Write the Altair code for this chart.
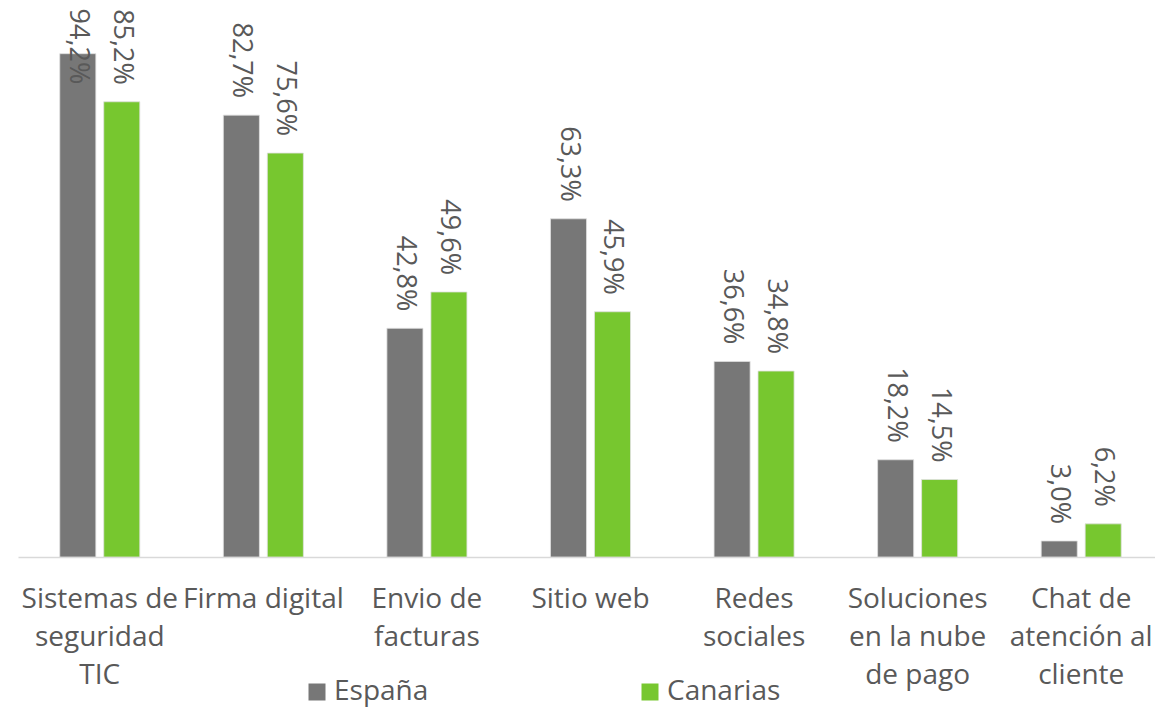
import altair as alt
import pandas as pd

CATEGORIES = [
    "Sistemas de\nseguridad\nTIC",
    "Firma digital",
    "Envio de\nfacturas",
    "Sitio web",
    "Redes\nsociales",
    "Soluciones\nen la nube\nde pago",
    "Chat de\natención al\ncliente",
]
SERIES = ["España", "Canarias"]
ESPANA = [94.2, 82.7, 42.8, 63.3, 36.6, 18.2, 3.0]
CANARIAS = [85.2, 75.6, 49.6, 45.9, 34.8, 14.5, 6.2]
COLORS = ["#777777", "#77C72F"]

rows = []
for c, e, k in zip(CATEGORIES, ESPANA, CANARIAS):
    rows.append({"categoria": c, "serie": "España", "valor": e})
    rows.append({"categoria": c, "serie": "Canarias", "valor": k})
df = pd.DataFrame(rows)

FONT = "Open Sans"
TXT = "#595959"
LABEL_CAP = 85.3  # labels kept inside the plot area, as in the original
Y_MAX = 102.75

x = alt.X(
    "categoria:N",
    sort=CATEGORIES,
    scale=alt.Scale(paddingInner=0, paddingOuter=0, range=[0, 1145]),
    axis=alt.Axis(
        title=None,
        labelExpr="split(datum.label, '\\n')",
        labelFont=FONT,
        labelFontSize=28,
        labelColor=TXT,
        labelLineHeight=38,
        labelPadding=28.5,
        labelAngle=0,
        labelBaseline="top",
        labelLimit=400,
        labelOverlap=False,
        labelBound=False,
        ticks=False,
        tickSize=0,
        domainColor="#d9d9d9",
        domainWidth=1.3,
        grid=False,
    ),
)
xoff = alt.XOffset("serie:N", sort=SERIES,
                   scale=alt.Scale(paddingInner=0.18, paddingOuter=0.95))
yscale = alt.Scale(domain=[0, Y_MAX], nice=False, zero=True)
y = alt.Y("valor:Q", scale=yscale, axis=None)
color = alt.Color(
    "serie:N",
    sort=SERIES,
    scale=alt.Scale(domain=SERIES, range=COLORS),
    legend=alt.Legend(
        title=None,
        orient="none",
        direction="horizontal",
        legendX=285,
        legendY=670,
        symbolType="square",
        symbolSize=289,
        symbolStrokeWidth=0,
        labelFont=FONT,
        labelFontSize=28,
        labelColor=TXT,
        labelOffset=3,
        columnPadding=207,
        padding=0,
        labelLimit=400,
    ),
)

bars = alt.Chart(df).mark_bar(stroke="#e0e0e0", strokeWidth=0.8).encode(
    x=x, xOffset=xoff, y=y, color=color
)

labels = (
    alt.Chart(df)
    .transform_calculate(
        etiqueta="replace(format(datum.valor, '.1f'), '.', ',') + '%'",
        ypos=f"min(datum.valor, {LABEL_CAP})",
    )
    .mark_text(angle=90, align="right", baseline="middle", dx=-17,
               font=FONT, fontSize=27, color=TXT)
    .encode(x=x, xOffset=xoff, y=alt.Y("ypos:Q", scale=yscale, axis=None),
            text="etiqueta:N")
)

chart = (
    alt.layer(bars, labels)
    .properties(
        width=1137,
        height=549,
        padding={"left": 10, "top": 0, "right": 0, "bottom": 150},
        autosize=alt.AutoSizeParams(type="none"),
    )
    .configure_view(stroke=None)
)

chart.save("out.html", embed_options={"renderer": "svg", "actions": False})
